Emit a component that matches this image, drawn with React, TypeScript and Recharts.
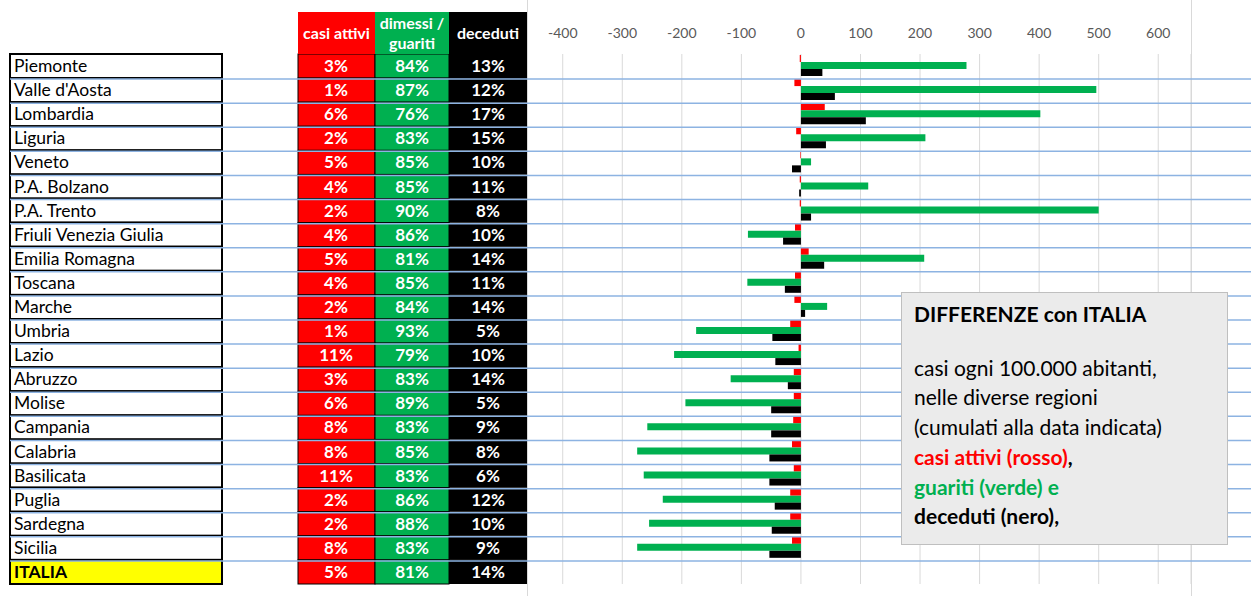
import { Bar, BarChart, CartesianGrid, XAxis, YAxis } from 'recharts';

const regions = [
  'Piemonte', "Valle d'Aosta", 'Lombardia', 'Liguria', 'Veneto', 'P.A. Bolzano', 'P.A. Trento',
  'Friuli Venezia Giulia', 'Emilia Romagna', 'Toscana', 'Marche', 'Umbria', 'Lazio', 'Abruzzo',
  'Molise', 'Campania', 'Calabria', 'Basilicata', 'Puglia', 'Sardegna', 'Sicilia', 'ITALIA',
];
const pctAttivi = [3, 1, 6, 2, 5, 4, 2, 4, 5, 4, 2, 1, 11, 3, 6, 8, 8, 11, 2, 2, 8, 5];
const pctGuariti = [84, 87, 76, 83, 85, 85, 90, 86, 81, 85, 84, 93, 79, 83, 89, 83, 85, 83, 86, 88, 83, 81];
const pctDeceduti = [13, 12, 17, 15, 10, 11, 8, 10, 14, 11, 14, 5, 10, 14, 5, 9, 8, 6, 12, 10, 9, 14];

// differenze con ITALIA, casi ogni 100.000 abitanti
const diffAttivi = [-2, -11, 40, -8, -1, -2, -2, -10, 13, -10, -11, -18, -4, -12, -12, -13, -15, -12, -18, -18, -15, 0];
const diffGuariti = [278, 496, 402, 209, 17, 113, 500, -89, 207, -90, 44, -176, -213, -118, -194, -258, -275, -264, -232, -255, -275, 0];
const diffDeceduti = [36, 57, 109, 42, -15, -3, 17, -30, 39, -27, 7, -48, -43, -22, -50, -50, -53, -53, -44, -49, -53, 0];

const xTicks = [-400, -300, -200, -100, 0, 100, 200, 300, 400, 500, 600];

const data = regions.map((name, i) => ({
  name,
  attivi: diffAttivi[i],
  guariti: diffGuariti[i],
  deceduti: diffDeceduti[i],
}));

const W = 1251;
const H = 596;
const M_TOP = 24;
const X_AXIS_H = 30;
const M_BOTTOM = 12;
const BAND = (H - M_TOP - X_AXIS_H - M_BOTTOM) / regions.length;

const RED = '#ff0000';
const GREEN = '#00b050';
const FONT = 'Lato, "Noto Sans", sans-serif';

const RowTick = (props: any) => {
  const { y, index } = props;
  const top = y - BAND / 2;
  const isItalia = regions[index] === 'ITALIA';
  const pct = (v: number) => `${v}%`;
  return (
    <g fontFamily={FONT}>
      <rect x={10} y={top} width={212} height={BAND} fill={isItalia ? '#ffff00' : '#fff'} stroke='#000' strokeWidth={2} />
      <text x={14} y={y + 6} fontSize={17.5} fill='#000' fontWeight={isItalia ? 700 : 400}>
        {regions[index]}
      </text>
      <rect x={298} y={top} width={77} height={BAND} fill={RED} stroke='#000' strokeWidth={1} />
      <rect x={375} y={top} width={74} height={BAND} fill={GREEN} stroke='#000' strokeWidth={1} />
      <rect x={449} y={top} width={78} height={BAND} fill='#000' />
      <text x={336} y={y + 6} fontSize={17} fontWeight={700} fill='#fff' textAnchor='middle'>{pct(pctAttivi[index])}</text>
      <text x={412} y={y + 6} fontSize={17} fontWeight={700} fill='#fff' textAnchor='middle'>{pct(pctGuariti[index])}</text>
      <text x={488} y={y + 6} fontSize={17} fontWeight={700} fill='#fff' textAnchor='middle'>{pct(pctDeceduti[index])}</text>
      {index > 0 && <line x1={10} x2={W} y1={top + 1} y2={top + 1} stroke='#8db3e2' strokeWidth={1.5} />}
    </g>
  );
};

const headCell: React.CSSProperties = {
  position: 'absolute',
  top: 12,
  height: 42,
  color: '#fff',
  fontWeight: 700,
  fontSize: 16,
  display: 'flex',
  alignItems: 'center',
  justifyContent: 'center',
  textAlign: 'center',
  lineHeight: '20px',
};

export default function App() {
  return (
    <div style={{ position: 'absolute', left: 0, top: 0, width: W, height: H, background: '#fff', fontFamily: FONT, overflow: 'hidden' }}>
      <div style={{ position: 'absolute', left: 527, top: 0, width: 0, height: H, borderLeft: '1px solid #d9d9d9' }} />
      <div style={{ position: 'absolute', left: 1191, top: 0, width: 0, height: H, borderLeft: '1px solid #d9d9d9' }} />
      <BarChart
        width={W}
        height={H}
        data={data}
        layout='vertical'
        margin={{ top: M_TOP, right: W - 1191, bottom: M_BOTTOM, left: 0 }}
        barCategoryGap={1}
        barGap={0}
      >
        <CartesianGrid horizontal={false} stroke='#d9d9d9' />
        <XAxis
          type='number'
          orientation='top'
          domain={[-460, 655]}
          ticks={xTicks}
          height={X_AXIS_H}
          axisLine={false}
          tickLine={false}
          tickSize={0}
          tickMargin={16}
          tick={{ fill: '#595959', fontSize: 14, fontFamily: FONT }}
          allowDataOverflow
        />
        <YAxis type='category' dataKey='name' width={527} axisLine={false} tickLine={false} tick={<RowTick />} interval={0} />
        <Bar dataKey='attivi' fill={RED} isAnimationActive={false} />
        <Bar dataKey='guariti' fill={GREEN} isAnimationActive={false} />
        <Bar dataKey='deceduti' fill='#000' isAnimationActive={false} />
      </BarChart>
      <div style={{ ...headCell, left: 298, width: 77, background: RED }}>casi attivi</div>
      <div style={{ ...headCell, left: 375, width: 74, background: GREEN }}>dimessi /<br />guariti</div>
      <div style={{ ...headCell, left: 449, width: 78, background: '#000' }}>deceduti</div>
      <div
        style={{
          position: 'absolute',
          left: 901,
          top: 292,
          width: 313,
          height: 239,
          padding: '6px 0 6px 12px',
          background: '#ebebeb',
          border: '1px solid #bfbfbf',
          fontSize: 21,
          lineHeight: '29.7px',
          color: '#000',
        }}
      >
        <div style={{ fontWeight: 700 }}>DIFFERENZE con ITALIA</div>
        <div style={{ height: 24 }} />
        <div>casi ogni 100.000 abitanti,</div>
        <div>nelle diverse regioni</div>
        <div>(cumulati alla data indicata)</div>
        <div style={{ fontWeight: 700 }}><span style={{ color: RED }}>casi attivi (rosso)</span>,</div>
        <div style={{ fontWeight: 700, color: GREEN }}>guariti (verde) e</div>
        <div style={{ fontWeight: 700 }}>deceduti (nero),</div>
      </div>
    </div>
  );
}
